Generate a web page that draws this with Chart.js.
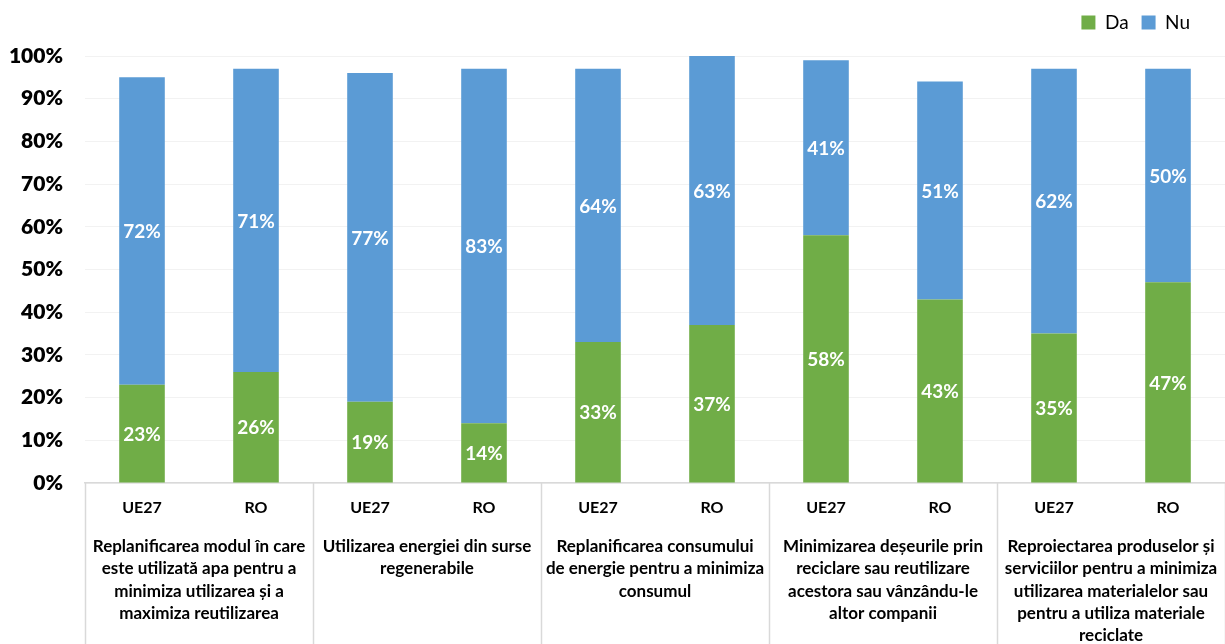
<!DOCTYPE html>
<html>
<head>
<meta charset="utf-8">
<script src="https://cdn.jsdelivr.net/npm/chart.js@4/dist/chart.umd.min.js"></script>
<style>
  html, body { margin: 0; padding: 0; background: #fff; }
  #wrap { width: 1225px; height: 644px; }
</style>
</head>
<body>
<div id="wrap"><canvas id="c"></canvas></div>
<script>
// Respondent groups for each bar
const regions = ['UE27', 'RO', 'UE27', 'RO', 'UE27', 'RO', 'UE27', 'RO', 'UE27', 'RO'];

// Action categories (two bars per category), pre-wrapped
const actions = [
  ['Replanificarea modul în care', 'este utilizată apa pentru a', 'minimiza utilizarea și a', 'maximiza reutilizarea'],
  ['Utilizarea energiei din surse', 'regenerabile'],
  ['Replanificarea consumului', 'de energie pentru a minimiza', 'consumul'],
  ['Minimizarea deșeurile prin', 'reciclare sau reutilizare', 'acestora sau vânzându-le', 'altor companii'],
  ['Reproiectarea produselor și', 'serviciilor pentru a minimiza', 'utilizarea materialelor sau', 'pentru a utiliza materiale', 'reciclate']
];

// Shares of companies (%)
const da = [23, 26, 19, 14, 33, 37, 58, 43, 35, 47];
const nu = [72, 71, 77, 83, 64, 63, 41, 51, 62, 50];

const seriesNames = ['Da', 'Nu'];
const yMin = 0, yMax = 100, yStep = 10;

const GREEN = '#70ad47';
const BLUE = '#5b9bd5';
const SEP = '#d9d9d9';

Chart.defaults.font.family = 'Lato, "Open Sans", sans-serif';
Chart.defaults.color = '#000';

// White percentage labels centred in each stacked segment
const segmentLabels = {
  id: 'segmentLabels',
  afterDatasetsDraw(chart) {
    const ctx = chart.ctx;
    ctx.save();
    ctx.fillStyle = '#fff';
    ctx.font = 'bold 19px Lato, sans-serif';
    ctx.textAlign = 'center';
    ctx.textBaseline = 'middle';
    chart.data.datasets.forEach((ds, di) => {
      const meta = chart.getDatasetMeta(di);
      meta.data.forEach((bar, i) => {
        const p = bar.getProps(['x', 'y', 'base'], true);
        ctx.fillText(ds.data[i] + '%', p.x, (p.y + p.base) / 2 + 1);
      });
    });
    ctx.restore();
  }
};

// Vertical separators between action categories, below the axis
const groupSeparators = {
  id: 'groupSeparators',
  afterDraw(chart) {
    const x = chart.scales.x;
    const ctx = chart.ctx;
    const n = regions.length;
    const step = x.getPixelForValue(1) - x.getPixelForValue(0);
    ctx.save();
    ctx.strokeStyle = SEP;
    ctx.lineWidth = 1.5;
    for (let i = 0; i <= n; i += 2) {
      const px = x.getPixelForValue(0) + (i - 0.5) * step;
      ctx.beginPath();
      ctx.moveTo(Math.round(px) + 0.5, chart.chartArea.bottom);
      ctx.lineTo(Math.round(px) + 0.5, chart.height);
      ctx.stroke();
    }
    ctx.restore();
  }
};

// Keep a margin to the right of the legend without widening item spacing
const legendInset = {
  id: 'legendInset',
  afterLayout(chart) {
    const lg = chart.legend;
    if (lg && lg.lineWidths && lg.lineWidths.length) lg.lineWidths[0] += 22;
  }
};

new Chart(document.getElementById('c'), {
  type: 'bar',
  data: {
    labels: regions,
    datasets: [
      { label: seriesNames[0], data: da, backgroundColor: GREEN, barPercentage: 0.4, categoryPercentage: 1 },
      { label: seriesNames[1], data: nu, backgroundColor: BLUE, barPercentage: 0.4, categoryPercentage: 1 }
    ]
  },
  options: {
    responsive: true,
    maintainAspectRatio: false,
    animation: false,
    layout: { padding: 0 },
    plugins: {
      legend: {
        position: 'top',
        align: 'end',
        weight: 1000,
        labels: {
          boxWidth: 14,
          boxHeight: 14,
          padding: 13,
          color: '#000',
          font: { size: 19 }
        }
      },
      // empty spacer between legend and plot
      title: {
        display: true,
        text: '',
        position: 'top',
        weight: 500,
        padding: 0,
        font: { size: 14, lineHeight: 1 }
      },
      tooltip: { enabled: false }
    },
    scales: {
      x: {
        stacked: true,
        position: 'bottom',
        grid: { display: false, drawTicks: false },
        border: { display: true, color: SEP, width: 1.5 },
        ticks: { autoSkip: false, maxRotation: 0, padding: 15, font: { size: 16, weight: 'bold' }, color: '#000' },
        afterFit(s) { s.height = 48; }
      },
      x2: {
        type: 'category',
        labels: actions,
        position: 'bottom',
        offset: true,
        grid: { display: false, drawTicks: false },
        border: { display: false },
        ticks: { autoSkip: false, maxRotation: 0, padding: 4, font: { size: 17, weight: 'bold', lineHeight: 1.32 }, color: '#000' },
        afterFit(s) { s.height = 113; }
      },
      y: {
        stacked: true,
        min: yMin,
        max: yMax,
        grid: { color: '#f2f2f2', drawTicks: false },
        border: { display: false },
        ticks: {
          stepSize: yStep,
          padding: 22,
          font: { size: 21, weight: 800 },
          color: '#000',
          callback: v => v + '%'
        },
        afterFit(s) { s.width = 85; }
      }
    }
  },
  plugins: [segmentLabels, groupSeparators, legendInset]
});
</script>
</body>
</html>
